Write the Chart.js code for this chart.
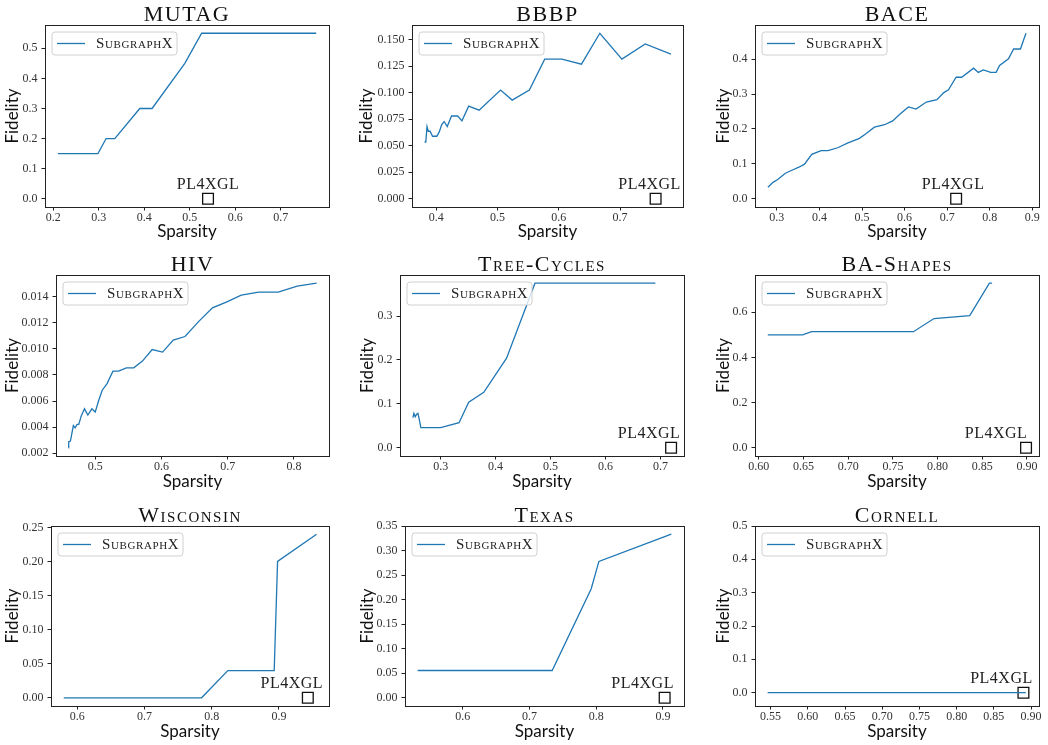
<!DOCTYPE html>
<html>
<head>
<meta charset="utf-8">
<script src="https://cdn.jsdelivr.net/npm/chart.js@4.4.1/dist/chart.umd.min.js"></script>
<style>
  body { margin: 0; background: #fff; }
  #wrap { position: relative; width: 1048px; height: 745px; }
  #wrap canvas { position: absolute; }
</style>
</head>
<body>
<div id="wrap"></div>
<script>
// ---- data ----
const datasetNames = ['MUTAG', 'BBBP', 'BACE', 'HIV', 'Tree-Cycles', 'BA-Shapes', 'Wisconsin', 'Texas', 'Cornell'];

const mutagSparsity = [0.21, 0.298, 0.316, 0.335, 0.39, 0.417, 0.489, 0.526, 0.778];
const mutagFidelity = [0.15, 0.15, 0.2, 0.2, 0.3, 0.3, 0.45, 0.55, 0.55];

const bbbpSparsity = [0.381, 0.383, 0.385, 0.387, 0.390, 0.394, 0.401, 0.405, 0.409, 0.413, 0.418, 0.425, 0.435,
  0.442, 0.453, 0.470, 0.505, 0.524, 0.552, 0.577, 0.605, 0.637, 0.667, 0.703, 0.741, 0.783];
const bbbpFidelity = [0.0535, 0.0535, 0.068, 0.0636, 0.0636, 0.0589, 0.0589, 0.063, 0.070, 0.0728, 0.068, 0.078, 0.078,
  0.0734, 0.0873, 0.0835, 0.1025, 0.093, 0.1025, 0.1316, 0.1316, 0.1269, 0.156, 0.1316, 0.146, 0.1364];

const baceSparsity = [0.279, 0.291, 0.302, 0.320, 0.338, 0.353, 0.365, 0.382, 0.404, 0.420, 0.443, 0.467, 0.494, 0.510,
  0.529, 0.553, 0.572, 0.588, 0.609, 0.627, 0.651, 0.676, 0.692, 0.703, 0.721, 0.734, 0.762, 0.773, 0.785, 0.802,
  0.815, 0.823, 0.844, 0.856, 0.872, 0.885];
const baceFidelity = [0.033, 0.047, 0.055, 0.073, 0.083, 0.091, 0.099, 0.127, 0.138, 0.138, 0.146, 0.160, 0.173, 0.187,
  0.205, 0.212, 0.223, 0.241, 0.263, 0.257, 0.277, 0.284, 0.304, 0.312, 0.348, 0.348, 0.374, 0.362, 0.369, 0.362,
  0.362, 0.382, 0.401, 0.429, 0.429, 0.474];

const hivSparsity = [0.4595, 0.460, 0.4626, 0.467, 0.4697, 0.4727, 0.4752, 0.4788, 0.4838, 0.4889, 0.495, 0.500, 0.505,
  0.5106, 0.5177, 0.5268, 0.5354, 0.547, 0.5582, 0.5713, 0.586, 0.6017, 0.6179, 0.6356, 0.6568, 0.677, 0.6988,
  0.7205, 0.7468, 0.7762, 0.805, 0.8343];
const hivFidelity = [0.00241, 0.00287, 0.00292, 0.00412, 0.00394, 0.0042, 0.0042, 0.00484, 0.0054, 0.00492, 0.0054,
  0.00515, 0.006, 0.00683, 0.00732, 0.00829, 0.00829, 0.00855, 0.00855, 0.00906, 0.00995, 0.00975, 0.01067,
  0.01095, 0.01213, 0.01315, 0.01361, 0.01412, 0.01435, 0.01435, 0.01481, 0.01504];

const treeSparsity = [0.2495, 0.2513, 0.2537, 0.2562, 0.2586, 0.2604, 0.264, 0.300, 0.3335, 0.3511, 0.3785, 0.420, 0.4717, 0.6909];
const treeFidelity = [0.0685, 0.0784, 0.0708, 0.0762, 0.0784, 0.0685, 0.0457, 0.0457, 0.0571, 0.1036, 0.1264, 0.2041, 0.3747, 0.3747];

const baSparsity = [0.610, 0.649, 0.659, 0.773, 0.796, 0.836, 0.858, 0.861];
const baFidelity = [0.5, 0.5, 0.514, 0.514, 0.572, 0.585, 0.7285, 0.7285];

const wiscSparsity = [0.580, 0.785, 0.824, 0.893, 0.898, 0.956];
const wiscFidelity = [0, 0, 0.04, 0.04, 0.2, 0.24];

const texasSparsity = [0.5325, 0.734, 0.7925, 0.804, 0.9125];
const texasFidelity = [0.0556, 0.0556, 0.2222, 0.2778, 0.3333];

const cornellSparsity = [0.546, 0.893];
const cornellFidelity = [0, 0];

// PL4XGL single result per dataset (none for HIV)
const pl4xglSparsity = [0.54, 0.758, 0.721, null, 0.7195, 0.899, 0.943, 0.9025, 0.8898];
const pl4xglFidelity = [0, 0, 0, null, 0, 0, 0, 0, 0];

// tick labels
const xTickLabels = [
  ['0.2', '0.3', '0.4', '0.5', '0.6', '0.7'],
  ['0.4', '0.5', '0.6', '0.7'],
  ['0.3', '0.4', '0.5', '0.6', '0.7', '0.8', '0.9'],
  ['0.5', '0.6', '0.7', '0.8'],
  ['0.3', '0.4', '0.5', '0.6', '0.7'],
  ['0.60', '0.65', '0.70', '0.75', '0.80', '0.85', '0.90'],
  ['0.6', '0.7', '0.8', '0.9'],
  ['0.6', '0.7', '0.8', '0.9'],
  ['0.55', '0.60', '0.65', '0.70', '0.75', '0.80', '0.85', '0.90']
];
const yTickLabels = [
  ['0.0', '0.1', '0.2', '0.3', '0.4', '0.5'],
  ['0.000', '0.025', '0.050', '0.075', '0.100', '0.125', '0.150'],
  ['0.0', '0.1', '0.2', '0.3', '0.4'],
  ['0.002', '0.004', '0.006', '0.008', '0.010', '0.012', '0.014'],
  ['0.0', '0.1', '0.2', '0.3'],
  ['0.0', '0.2', '0.4', '0.6'],
  ['0.00', '0.05', '0.10', '0.15', '0.20', '0.25'],
  ['0.00', '0.05', '0.10', '0.15', '0.20', '0.25', '0.30', '0.35'],
  ['0.0', '0.1', '0.2', '0.3', '0.4', '0.5']
];

// axis limits
const xLimits = [[0.1816, 0.806], [0.3605, 0.8027], [0.2487, 0.9156], [0.4408, 0.853], [0.226, 0.743],
  [0.5957, 0.9135], [0.561, 0.9745], [0.5135, 0.9315], [0.529, 0.9107]];
const yLimits = [[-0.0275, 0.5775], [-0.0078, 0.1638], [-0.0237, 0.4977], [0.00178, 0.01567], [-0.0187, 0.3934],
  [-0.0364, 0.7649], [-0.012, 0.252], [-0.0167, 0.35], [-0.04, 0.5]];

const sparsitySeries = [mutagSparsity, bbbpSparsity, baceSparsity, hivSparsity, treeSparsity, baSparsity, wiscSparsity, texasSparsity, cornellSparsity];
const fidelitySeries = [mutagFidelity, bbbpFidelity, baceFidelity, hivFidelity, treeFidelity, baFidelity, wiscFidelity, texasFidelity, cornellFidelity];

// ---- layout (page pixels) ----
const colLeft = [0, 350, 698], colWidth = [350, 348, 350];
const rowTop = [0, 245, 495], rowHeight = [245, 250, 250];
const plotRects = [
  [45, 25, 329, 207], [412, 25, 683, 207], [755, 25, 1039, 207],
  [56, 275, 329, 456], [400, 275, 684, 456], [755, 275, 1039, 456],
  [51, 526, 329, 706], [405, 526, 684, 706], [755, 526, 1039, 706]
];
const fidelityLabelX = [13, 367, 724, 13, 368, 724, 13, 368, 724];
const pl4xglLabelDx = [0, -6, -3, 0, -22, -30, -16, -22, -22];

const BLUE = '#1f77b4';
const SERIF = '"Liberation Serif", "DejaVu Serif", serif';

const decor = {
  id: 'decor',
  afterDraw(chart, args, o) {
    const { ctx, chartArea: a } = chart;
    ctx.save();
    // full frame
    ctx.strokeStyle = '#222';
    ctx.lineWidth = 1;
    ctx.strokeRect(Math.round(a.left) + 0.5, Math.round(a.top) + 0.5, Math.round(a.right - a.left), Math.round(a.bottom - a.top));

    // title
    ctx.fillStyle = '#111';
    ctx.font = 'small-caps 22px ' + SERIF;
    ctx.fontVariantCaps = 'small-caps';
    ctx.letterSpacing = '1.5px';
    ctx.textAlign = 'center';
    ctx.textBaseline = 'alphabetic';
    ctx.fillText(o.title, (a.left + a.right) / 2, a.top - 4);

    // legend
    const lx = a.left + 7, ly = a.top + 7, lw = 125, lh = 23;
    ctx.beginPath();
    ctx.roundRect(lx, ly, lw, lh, 3);
    ctx.fillStyle = 'rgba(255,255,255,0.8)';
    ctx.fill();
    ctx.strokeStyle = '#d0d0d0';
    ctx.stroke();
    ctx.beginPath();
    ctx.moveTo(lx + 5, ly + lh / 2);
    ctx.lineTo(lx + 33, ly + lh / 2);
    ctx.strokeStyle = BLUE;
    ctx.lineWidth = 1.3;
    ctx.stroke();
    ctx.fillStyle = '#222';
    ctx.font = 'small-caps 15px ' + SERIF;
    ctx.fontVariantCaps = 'small-caps';
    ctx.letterSpacing = '0.6px';
    ctx.textAlign = 'left';
    ctx.textBaseline = 'middle';
    ctx.fillText('SubgraphX', lx + 44, ly + lh / 2 + 1);

    // PL4XGL annotation
    const meta = chart.getDatasetMeta(1);
    const pt = meta.data[0];
    if (pt && o.hasPl) {
      ctx.font = '16px ' + SERIF;
      ctx.fontVariantCaps = 'normal';
      ctx.letterSpacing = '0.5px';
      ctx.textAlign = 'center';
      ctx.textBaseline = 'alphabetic';
      ctx.fillStyle = '#222';
      ctx.fillText('PL4XGL', pt.x + o.labelDx, pt.y - 10);
    }
    ctx.restore();
  }
};

const wrap = document.getElementById('wrap');

datasetNames.forEach((name, i) => {
  const col = i % 3, row = Math.floor(i / 3);
  const cl = colLeft[col], ct = rowTop[row], cw = colWidth[col], ch = rowHeight[row];
  const [pl, pt, pr, pb] = plotRects[i];

  const canvas = document.createElement('canvas');
  canvas.width = cw;
  canvas.height = ch;
  canvas.style.left = cl + 'px';
  canvas.style.top = ct + 'px';
  canvas.style.width = cw + 'px';
  canvas.style.height = ch + 'px';
  wrap.appendChild(canvas);

  const line = sparsitySeries[i].map((x, k) => ({ x: x, y: fidelitySeries[i][k] }));
  const hasPl = pl4xglSparsity[i] !== null;
  const marker = hasPl ? [{ x: pl4xglSparsity[i], y: pl4xglFidelity[i] }] : [];
  const xLab = xTickLabels[i], yLab = yTickLabels[i];

  new Chart(canvas, {
    type: 'scatter',
    data: {
      datasets: [{
        label: 'SubgraphX',
        data: line,
        showLine: true,
        borderColor: BLUE,
        borderWidth: 1.3,
        pointRadius: 0,
        tension: 0
      }, {
        label: 'PL4XGL',
        data: marker,
        pointStyle: 'rect',
        pointRadius: 7.6,
        backgroundColor: 'rgba(0,0,0,0)',
        borderColor: '#111',
        borderWidth: 1.3
      }]
    },
    options: {
      responsive: false,
      animation: false,
      devicePixelRatio: 1,
      layout: { padding: { left: 0, top: pt - ct, right: cl + cw - pr, bottom: 0 } },
      plugins: {
        legend: { display: false },
        tooltip: { enabled: false },
        decor: { title: name, hasPl: hasPl, labelDx: pl4xglLabelDx[i] }
      },
      scales: {
        x: {
          type: 'linear',
          min: xLimits[i][0],
          max: xLimits[i][1],
          afterBuildTicks: s => { s.ticks = xLab.map(v => ({ value: parseFloat(v) })); },
          afterFit: s => { s.height = ct + ch - pb; },
          grid: { drawOnChartArea: false, drawTicks: true, tickLength: 3.5, color: '#222' },
          border: { display: true, color: '#222' },
          ticks: {
            autoSkip: false, maxRotation: 0, padding: 0, color: '#333',
            font: { family: SERIF, size: 12 },
            callback: (v, k) => xLab[k]
          },
          title: {
            display: true, text: 'Sparsity', color: '#111',
            font: { family: 'Lato', size: 17 },
            padding: { top: 0, bottom: 2.8 }
          }
        },
        y: {
          type: 'linear',
          min: yLimits[i][0],
          max: yLimits[i][1],
          afterBuildTicks: s => { s.ticks = yLab.map(v => ({ value: parseFloat(v) })); },
          afterFit: s => { s.width = pl - cl; },
          grid: { drawOnChartArea: false, drawTicks: true, tickLength: 3.5, color: '#222' },
          border: { display: true, color: '#222' },
          ticks: {
            autoSkip: false, padding: 4, color: '#333',
            font: { family: SERIF, size: 12 },
            callback: (v, k) => yLab[k]
          },
          title: {
            display: true, text: 'Fidelity', color: '#111',
            font: { family: 'Lato', size: 17 },
            padding: { top: fidelityLabelX[i] - cl - 10.2, bottom: 0 }
          }
        }
      }
    },
    plugins: [decor]
  });
});
</script>
</body>
</html>
